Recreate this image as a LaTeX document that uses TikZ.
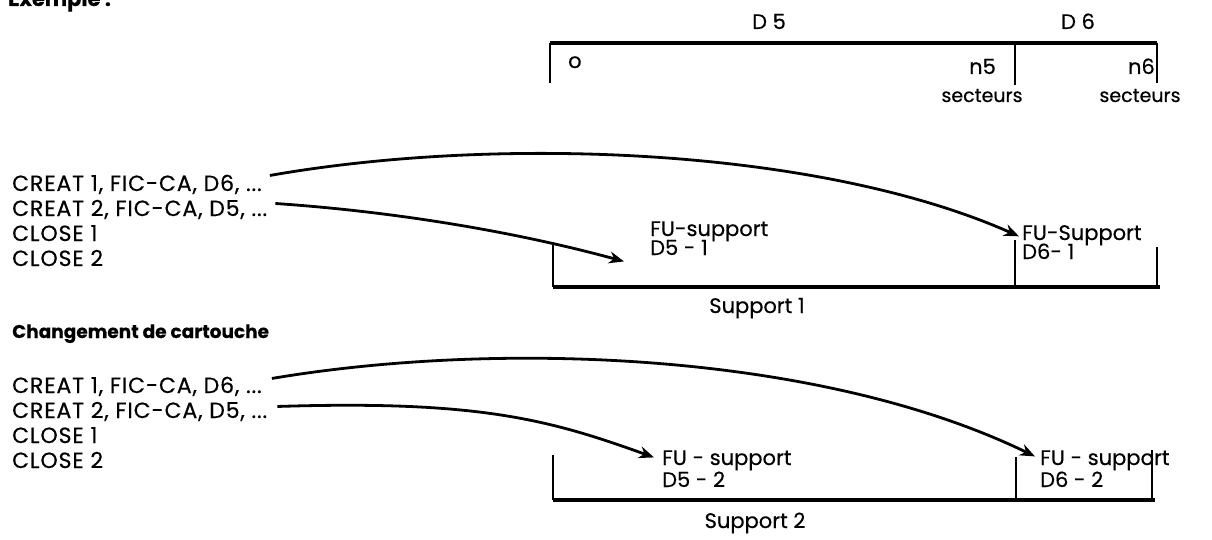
\documentclass[tikz,border=0pt]{standalone}
\usepackage{fontspec}
\setmainfont{Poppins}[FakeBold=0.4]
\newfontfamily\lefttext{Poppins}[LetterSpace=4,FakeBold=0.4]
\usetikzlibrary{arrows.meta}
\begin{document}
\begin{tikzpicture}[x=1pt,y=-1pt,
  txt/.style={inner sep=0pt,font=\fontsize{21}{24}\selectfont},
  lbl/.style={txt,anchor=base west},
  cmd/.style={inner sep=0pt,anchor=base west,font=\lefttext\fontsize{22}{24}\selectfont},
  ctr/.style={txt,anchor=base},
  sct/.style={inner sep=0pt,anchor=base,font=\fontsize{19}{22}\selectfont},
  rgt/.style={txt,anchor=base east},
  hdr/.style={inner sep=0pt,anchor=base west,font=\bfseries},
  bar/.style={line width=3.2pt},
  tick/.style={line width=1.8pt},
  arr/.style={line width=2.8pt,-{Stealth[length=15pt,width=12pt]}}
]
\useasboundingbox (0,0) rectangle (1212,540);

% headings
\node[hdr,font=\fontsize{21}{24}\selectfont\bfseries] (ex) at (8,6) {Exemple :};
\node[hdr,font=\fontsize{18.5}{21}\selectfont\bfseries] (chg) at (12,338) {Changement de cartouche};

% top layout bar
\draw[bar] (550,43) -- (1157,43);
\draw[tick] (550,43) -- (550,83);
\draw[tick] (1015,43) -- (1015,85);
\draw[tick] (1157,43) -- (1157,83);
\node[ctr] (d5) at (769,29) {D 5};
\node[ctr] (d6) at (1078,29) {D 6};
\node[lbl] (o) at (568,68) {o};
\node[rgt] (n5) at (996,74) {n5};
\node[rgt] (n6) at (1155,74) {n6};
\node[sct] (s5) at (982,102) {secteurs};
\node[sct] (s6) at (1140,102) {secteurs};

% block 1
\node[cmd] (a1) at (12,191) {CREAT 1, FIC-CA, D6, ...};
\node[cmd] (a2) at (12,216) {CREAT 2, FIC-CA, D5, ...};
\node[cmd] (a3) at (12,241) {CLOSE 1};
\node[cmd] (a4) at (12,266) {CLOSE 2};

\draw[bar] (553,287) -- (1160,287);
\draw[tick] (553,245) -- (553,287);
\draw[tick] (1015,240) -- (1015,287);
\draw[tick] (1157,247) -- (1157,287);

\node[lbl] (f51) at (650,236) {FU-support};
\node[lbl] (g51) at (650,255) {D5 - 1};
\node[lbl] (f61) at (1022,240) {FU-Support};
\node[lbl] (g61) at (1022,259) {D6- 1};
\node[ctr] (sup1) at (757,313) {Support 1};

\draw[arr] ([xshift=8pt,yshift=9pt]a1.east) .. controls (500,135) and (820,148) .. ([xshift=-3pt,yshift=-1pt]f61.west);
\draw[arr] ([xshift=8pt,yshift=6pt]a2.east) .. controls (400,212) and (520,233) .. ([xshift=-26pt,yshift=-14pt]g51.west);

% block 2
\node[cmd] (b1) at (12,393) {CREAT 1, FIC-CA, D6, ...};
\node[cmd] (b2) at (12,418) {CREAT 2, FIC-CA, D5, ...};
\node[cmd] (b3) at (12,443) {CLOSE 1};
\node[cmd] (b4) at (12,468) {CLOSE 2};

\draw[bar] (553,500) -- (1155,500);
\draw[tick] (553,455) -- (553,500);
\draw[tick] (1016,457) -- (1016,500);
\draw[tick] (1152,450) -- (1152,500);

\node[lbl] (f52) at (662,465) {FU - support};
\node[lbl] (g52) at (662,487) {D5 - 2};
\node[lbl] (f62) at (1040,465) {FU - support};
\node[lbl] (g62) at (1040,487) {D6 - 2};
\node[ctr] (sup2) at (755,528) {Support 2};

\draw[arr] ([xshift=10pt,yshift=8pt]b1.east) .. controls (500,340) and (820,352) .. ([xshift=-5pt,yshift=4pt]f62.west);
\draw[arr] ([xshift=10pt,yshift=5pt]b2.east) .. controls (480,400) and (550,420) .. ([xshift=-8pt,yshift=3pt]f52.west);
\end{tikzpicture}
\end{document}
